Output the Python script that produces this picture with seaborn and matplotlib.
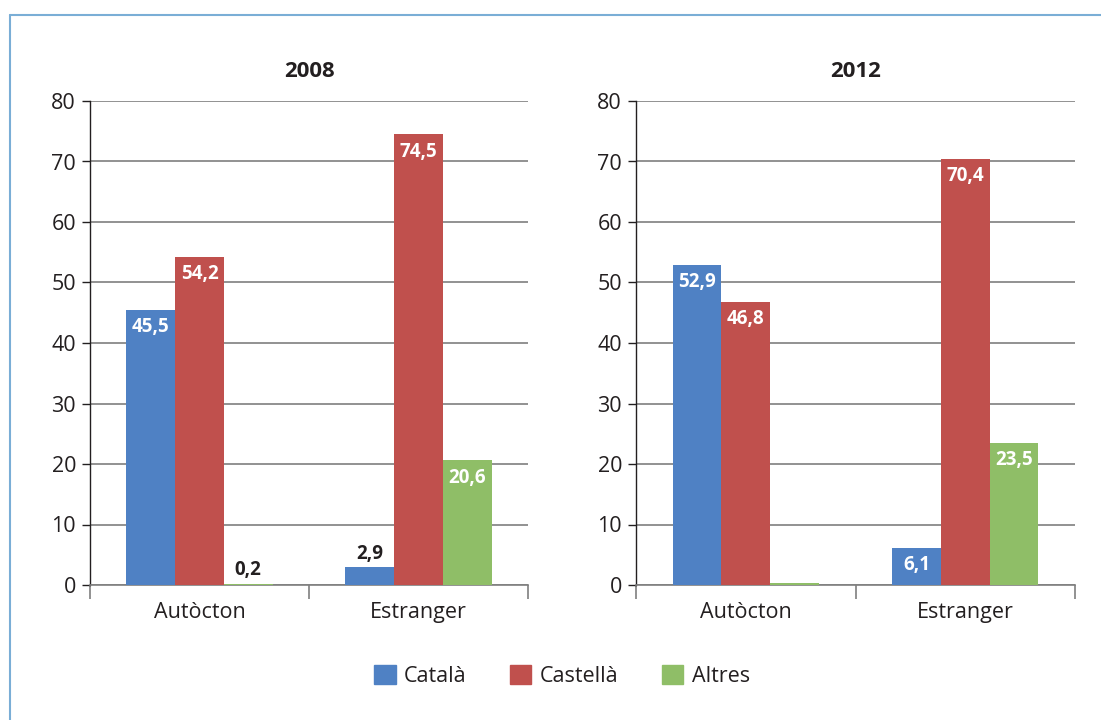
import matplotlib
matplotlib.use("Agg")
import matplotlib.pyplot as plt
import matplotlib.patches as mpatches
from matplotlib.lines import Line2D
import seaborn as sns
import pandas as pd

years = ["2008", "2012"]
groups = ["Autòcton", "Estranger"]
languages = ["Català", "Castellà", "Altres"]
values_2008 = {"Català": [45.5, 2.9], "Castellà": [54.2, 74.5], "Altres": [0.2, 20.6]}
values_2012 = {"Català": [52.9, 6.1], "Castellà": [46.8, 70.4], "Altres": [0.3, 23.5]}
labels_2008 = {"Català": ["45,5", "2,9"], "Castellà": ["54,2", "74,5"], "Altres": ["0,2", "20,6"]}
labels_2012 = {"Català": ["52,9", "6,1"], "Castellà": ["46,8", "70,4"], "Altres": ["", "23,5"]}
colors = ["#4f81c4", "#c0504d", "#8fbe67"]
yticks = [0, 10, 20, 30, 40, 50, 60, 70, 80]

sns.set_theme(style="white")
plt.rcParams['font.family'] = ['Open Sans', 'DejaVu Sans']

fig = plt.figure(figsize=(11.01, 7.2), dpi=100)
axes_pos = [[90/1101, 135/720, 438/1101, 484/720], [636/1101, 135/720, 439/1101, 484/720]]

def make_df(vals):
    rows = []
    for lang in languages:
        for g, v in zip(groups, vals[lang]):
            rows.append({"grup": g, "llengua": lang, "valor": v})
    return pd.DataFrame(rows)

for year, vals, labs, pos in zip(years, [values_2008, values_2012], [labels_2008, labels_2012], axes_pos):
    ax = fig.add_axes(pos)
    df = make_df(vals)
    sns.barplot(data=df, x="grup", y="valor", hue="llengua", order=groups, hue_order=languages,
                palette=colors, width=0.667, ax=ax, legend=False, errorbar=None, saturation=1,
                linewidth=0, edgecolor="none", zorder=3)
    ax.set_ylim(0, 80)
    ax.set_xlim(-0.5, 1.5)
    ax.set_yticks(yticks)
    ax.set_yticklabels([str(t) for t in yticks], fontsize=15.5, color="#231f20")
    ax.yaxis.grid(True, color="#7f7f7f", linewidth=1.2, zorder=0)
    ax.set_axisbelow(True)
    ax.set_xlabel("")
    ax.set_ylabel("")
    ax.set_title(year, fontsize=16, fontweight="bold", color="#231f20", pad=17)
    for s in ["top", "right"]:
        ax.spines[s].set_visible(False)
    ax.spines["left"].set_color("#231f20")
    ax.spines["left"].set_linewidth(1.0)
    ax.spines["bottom"].set_color("#7f7f7f")
    ax.spines["bottom"].set_linewidth(1.2)
    ax.tick_params(axis="y", which="major", left=True, length=6, width=1, color="#231f20", pad=4)
    ax.tick_params(axis="x", which="major", bottom=False, labelsize=15.5, labelcolor="#231f20", pad=6)
    ax.set_xticks([-0.5, 0.5, 1.5], minor=True)
    ax.tick_params(axis="x", which="minor", bottom=True, length=10, width=1.2, color="#7f7f7f")

    for cont, lang in zip(ax.containers, languages):
        for rect, v, lab in zip(cont, vals[lang], labs[lang]):
            if not lab:
                continue
            cx = rect.get_x() + rect.get_width() / 2
            if v < 5:
                ax.text(cx, v + 0.6, lab, ha="center", va="bottom", fontsize=13.5,
                        fontweight="bold", color="#231f20", zorder=5)
            else:
                ax.text(cx, v - 1.2, lab, ha="center", va="top", fontsize=13.5,
                        fontweight="bold", color="white", zorder=5)

handles = [mpatches.Patch(color=c, label=l) for c, l in zip(colors, languages)]
fig.legend(handles=handles, loc="center", bbox_to_anchor=(562/1101, 1 - 676/720), ncol=3,
           frameon=False, fontsize=15.5, handlelength=1.0, handleheight=1.0,
           columnspacing=2.0, handletextpad=0.4, labelcolor="#231f20")

# light blue frame (left and top edges)
fig.add_artist(Line2D([10/1101, 10/1101], [0, 1 - 15/720], transform=fig.transFigure,
                      color="#7aaed6", linewidth=1.5))
fig.add_artist(Line2D([10/1101, 1], [1 - 15/720, 1 - 15/720], transform=fig.transFigure,
                      color="#7aaed6", linewidth=1.5))

fig.savefig("out.png", dpi=100)
